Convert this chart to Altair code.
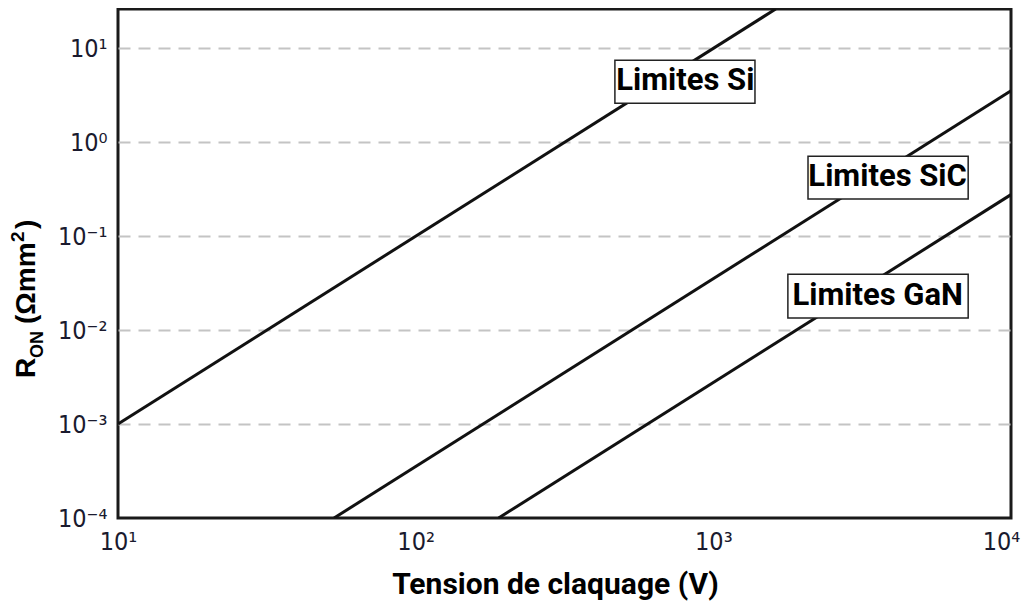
import altair as alt
import pandas as pd

# Series: breakdown voltage (V) and specific on-resistance (Ohm mm^2)
si_v = [10, 1620]
si_r = [1e-3, 26.2]
sic_v = [53.2, 10000]
sic_r = [1e-4, 3.53]
gan_v = [190, 10000]
gan_r = [1e-4, 0.277]

# Annotation labels (centres and boxes in data units)
labels = ["Limites Si", "Limites SiC", "Limites GaN"]
label_v = [805, 3850, 3565]
label_r = [4.46, 0.425, 0.0230]
box_v1 = [467, 2080, 1780]
box_v2 = [1380, 7180, 7180]
box_r1 = [2.60, 0.248, 0.01343]
box_r2 = [7.45, 0.710, 0.0394]

x_ticks = [10, 100, 1000, 10000]
x_tick_labels = ["10¹", "10²", "10³", "10⁴"]
y_ticks = [1e-4, 1e-3, 1e-2, 1e-1, 1, 10]
y_tick_labels = ["10⁻⁴", "10⁻³", "10⁻²", "10⁻¹", "10⁰", "10¹"]


def label_expr(vals, labs):
    import math
    parts = []
    for v, l in zip(vals, labs):
        k = round(math.log10(v))
        parts.append(f"round(log(datum.value)/LN10) == {k} ? '{l}' : ")
    return "".join(parts) + "''"


lines_df = pd.concat([
    pd.DataFrame({"v": si_v, "r": si_r, "s": "Si"}),
    pd.DataFrame({"v": sic_v, "r": sic_r, "s": "SiC"}),
    pd.DataFrame({"v": gan_v, "r": gan_r, "s": "GaN"}),
])

lab_df = pd.DataFrame({"t": labels, "v": label_v, "r": label_r,
                       "v1": box_v1, "v2": box_v2, "r1": box_r1, "r2": box_r2})

tick_font = "Liberation Sans Narrow, DejaVu Sans Condensed, Roboto"

xscale = alt.Scale(type="log", domain=[10, 10000], nice=False)
yscale = alt.Scale(type="log", domain=[1e-4, 26.2], nice=False)

xaxis = alt.Axis(values=x_ticks, labelExpr=label_expr(x_ticks, x_tick_labels),
                 title="Tension de claquage (V)", grid=False, ticks=False, domain=False,
                 labelFont=tick_font, labelFontSize=25, labelColor="#1a1a2e",
                 labelPadding=11, labelFlush=False,
                 labelOffset={"condition": {"test": "datum.value > 5000", "value": -10}, "value": 0},
                 titleFont="Roboto", titleFontSize=30, titleFontWeight="bold",
                 titleColor="black", titleX=437, titleY=75, titleBaseline="alphabetic",
                 titleAlign="center")
yaxis = alt.Axis(values=y_ticks, labelExpr=label_expr(y_ticks, y_tick_labels),
                 title=None, grid=True, gridDash=[12, 8], gridColor="#c4c4c4",
                 gridWidth=2, ticks=False, domain=False,
                 gridOpacity={"condition": {"test": "datum.value < 0.0005", "value": 0}, "value": 1},
                 labelFont=tick_font, labelFontSize=25, labelColor="#1a1a2e",
                 labelPadding=11, labelFlush=False, labelBaseline="middle")

lines = alt.Chart(lines_df).mark_line(color="#111111", strokeWidth=3, clip=True).encode(
    x=alt.X("v:Q", scale=xscale, axis=xaxis),
    y=alt.Y("r:Q", scale=yscale, axis=yaxis),
    detail="s:N",
)

boxes = alt.Chart(lab_df).mark_rect(fill="white", stroke="#222222", strokeWidth=1.5).encode(
    x=alt.X("v1:Q", scale=xscale),
    x2="v2",
    y=alt.Y("r1:Q", scale=yscale),
    y2="r2",
)

texts = alt.Chart(lab_df).mark_text(font="Roboto", fontSize=31, fontWeight="bold",
                                    align="center", baseline="middle", color="black").encode(
    x=alt.X("v:Q", scale=xscale),
    y=alt.Y("r:Q", scale=yscale),
    text="t:N",
)

one = pd.DataFrame({"a": [0]})


def ytitle_piece(txt, size, px, py):
    return alt.Chart(one).mark_text(
        angle=270, align="left", baseline="alphabetic", font="Liberation Sans",
        fontWeight="bold", fontSize=size, color="black", text=txt
    ).encode(x=alt.value(px), y=alt.value(py))


ytitle = [
    ytitle_piece("R", 28, -83, 369),
    ytitle_piece("ON", 18, -75, 349),
    ytitle_piece("(Ωmm", 28, -83, 315),
    ytitle_piece("2", 19, -94, 233),
    ytitle_piece(")", 28, -83, 220),
]

chart = alt.layer(lines, boxes, texts, *ytitle).properties(
    width=893, height=509,
    autosize=alt.AutoSizeParams(type="none"),
    padding={"left": 110, "top": 1, "right": 13, "bottom": 83},
    background="white",
).configure_view(stroke="#1a1a1a", strokeWidth=3)

chart.save("out.html", embed_options={"renderer": "svg", "actions": False})
